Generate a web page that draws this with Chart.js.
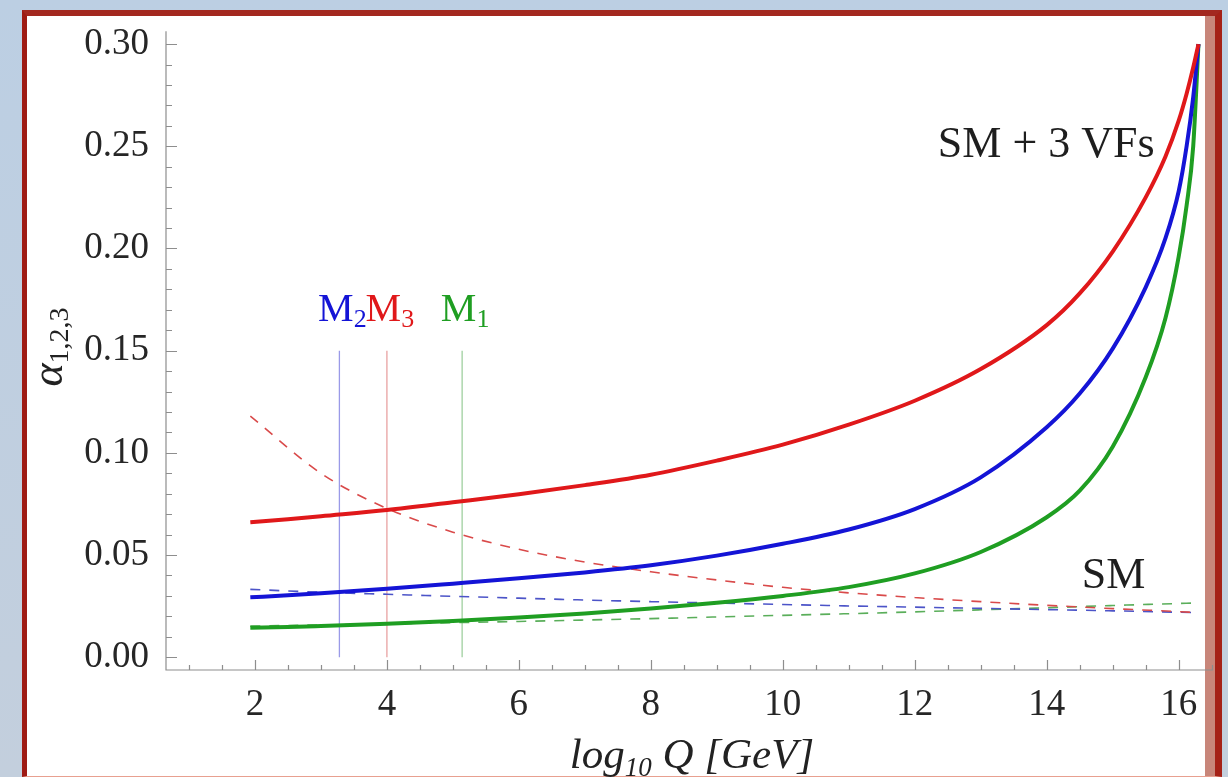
<!DOCTYPE html>
<html>
<head>
<meta charset="utf-8">
<script src="https://cdn.jsdelivr.net/npm/chart.js@4.4.1/dist/chart.umd.min.js"></script>
<style>
  html, body { margin: 0; padding: 0; }
  body { width: 1228px; height: 777px; overflow: hidden; position: relative;
         background: linear-gradient(to bottom, #bccfe3, #c3cfdd); }
  #frame { position: absolute; left: 22px; top: 10px; width: 1200px; height: 767px;
           box-sizing: border-box; background: #fff;
           border-left: 5px solid #9e1b14; border-top: 6px solid #a3281f;
           border-right: 7px solid #a52117; border-bottom: 1px solid #e8a090;
           box-shadow: inset -10px 0 0 #c8867a; }
  #chart { position: absolute; left: 0; top: 0; }
</style>
</head>
<body>
<div id="frame"></div>
<canvas id="chart" width="1228" height="777"></canvas>
<script>
// running couplings, SM + 3 VFs (solid)
const vfLogQ   = [1.93, 2.5, 3, 4, 5, 6, 7, 8, 9, 10, 11, 12, 13, 14, 14.5, 15, 15.5, 15.8, 16, 16.12, 16.22, 16.30];
const alpha3VF = [0.066, 0.0675, 0.069, 0.072, 0.0758, 0.0797, 0.0842, 0.0893, 0.0962, 0.104, 0.1138, 0.1255, 0.141, 0.1625, 0.178, 0.1985, 0.225, 0.245, 0.2625, 0.2757, 0.2885, 0.300];
const alpha2VF = [0.0293, 0.0303, 0.0313, 0.0335, 0.036, 0.0386, 0.0415, 0.045, 0.0497, 0.0555, 0.0625, 0.0725, 0.088, 0.1125, 0.129, 0.151, 0.181, 0.205, 0.228, 0.250, 0.274, 0.300];
const alpha1VF = [0.0144, 0.0148, 0.0153, 0.0164, 0.0177, 0.0194, 0.0214, 0.0238, 0.0266, 0.0300, 0.0343, 0.041, 0.0515, 0.0685, 0.0815, 0.103, 0.137, 0.166, 0.196, 0.221, 0.250, 0.300];

// running couplings, SM only (dashed)
const smLogQ   = [1.93, 3, 4, 5, 6, 7, 8, 9, 10, 11, 12, 13, 14, 15, 16, 16.30];
const alpha3SM = [0.118, 0.090, 0.0728, 0.0612, 0.0528, 0.0466, 0.0418, 0.0378, 0.0342, 0.0315, 0.0292, 0.0272, 0.0254, 0.0238, 0.0223, 0.0218];
const alpha2SM = [0.0332, 0.0318, 0.0308, 0.0298, 0.0289, 0.0280, 0.0272, 0.0265, 0.0258, 0.0251, 0.0245, 0.0239, 0.0233, 0.0227, 0.0220, 0.0218];
const alpha1SM = [0.0152, 0.0158, 0.0163, 0.0169, 0.0175, 0.0182, 0.0189, 0.0197, 0.0205, 0.0213, 0.0222, 0.0232, 0.0242, 0.0253, 0.0263, 0.0266];

// VF mass thresholds M2, M3, M1
const massLogQ = [3.28, 4.0, 5.14];
const massSub  = ['2', '3', '1'];
const massTop  = 0.15;

const xTickValues = [2, 4, 6, 8, 10, 12, 14, 16];
const yTickValues = [0, 0.05, 0.10, 0.15, 0.20, 0.25, 0.30];

const colors = {
    red: '#e0181a', blue: '#1414d6', green: '#1f9e22',
    redDash: '#d94a4a', blueDash: '#4c54c8', greenDash: '#5aae5a',
    redThin: '#e8a2a2', blueThin: '#9a9ae8', greenThin: '#9fd09f'
};
const serif = "'Liberation Serif', 'DejaVu Serif', serif";

const pts = (xs, ys) => xs.map((x, i) => ({ x, y: ys[i] }));

function curve(label, xs, ys, color, dashed) {
    return {
        label,
        data: pts(xs, ys),
        borderColor: color,
        borderWidth: dashed ? 1.6 : 4,
        borderDash: dashed ? [10, 9] : [],
        pointRadius: 0,
        cubicInterpolationMode: 'monotone',
        order: dashed ? 2 : 1
    };
}

const thinColors = [colors.blueThin, colors.redThin, colors.greenThin];
const markerSets = massLogQ.map((m, i) => ({
    label: 'M' + massSub[i],
    data: [{ x: m, y: 0 }, { x: m, y: massTop }],
    borderColor: thinColors[i],
    borderWidth: 1.3,
    pointRadius: 0,
    order: 3
}));

// Mathematica-style axes: lines through the origin corner, ticks pointing inward
const axesPlugin = {
    id: 'mmaAxes',
    beforeDatasetsDraw(chart) {
        const { ctx, chartArea: a, scales: { x, y } } = chart;
        ctx.save();
        ctx.strokeStyle = '#8e8e8e';
        ctx.lineWidth = 1.2;
        ctx.beginPath();
        ctx.moveTo(a.left, a.top);
        ctx.lineTo(a.left, a.bottom);
        ctx.lineTo(a.right, a.bottom);
        ctx.stroke();
        ctx.beginPath();
        for (let v = 1; v <= 16.5; v += 0.5) {
            const px = Math.round(x.getPixelForValue(v)) + 0.5;
            const len = v % 2 === 0 ? 10 : 5;
            ctx.moveTo(px, a.bottom);
            ctx.lineTo(px, a.bottom - len);
        }
        for (let k = 0; k <= 30; k++) {
            const py = Math.round(y.getPixelForValue(k / 100)) + 0.5;
            const len = k % 5 === 0 ? 11 : 6;
            ctx.moveTo(a.left, py);
            ctx.lineTo(a.left + len, py);
        }
        ctx.stroke();
        ctx.restore();
    }
};

function drawRuns(ctx, runs, x, y, align) {
    let w = 0;
    runs.forEach(r => { ctx.font = r.font; w += ctx.measureText(r.t).width; });
    let cx = align === 'center' ? x - w / 2 : x;
    runs.forEach(r => {
        ctx.font = r.font;
        ctx.fillStyle = r.color || '#222';
        ctx.fillText(r.t, cx, y + (r.dy || 0));
        cx += ctx.measureText(r.t).width;
    });
}

const textPlugin = {
    id: 'labels',
    afterDraw(chart) {
        const { ctx, scales: { x, y } } = chart;
        ctx.save();
        ctx.textBaseline = 'alphabetic';
        ctx.textAlign = 'left';

        // axis titles
        drawRuns(ctx, [
            { t: 'log', font: `italic 43px ${serif}` },
            { t: '10', font: `italic 27px ${serif}`, dy: 8 },
            { t: ' Q [GeV]', font: `italic 43px ${serif}` }
        ], 692, 768, 'center');

        ctx.save();
        ctx.translate(62, 347);
        ctx.rotate(-Math.PI / 2);
        drawRuns(ctx, [
            { t: 'α', font: `italic 44px ${serif}` },
            { t: '1,2,3', font: `28px ${serif}`, dy: 6 }
        ], 0, 0, 'center');
        ctx.restore();

        // threshold labels
        const mColors = [colors.blue, colors.red, colors.green];
        massLogQ.forEach((m, i) => {
            drawRuns(ctx, [
                { t: 'M', font: `40px ${serif}`, color: mColors[i] },
                { t: massSub[i], font: `26px ${serif}`, color: mColors[i], dy: 6 }
            ], x.getPixelForValue(m) + 3, y.getPixelForValue(0.1644), 'center');
        });

        ctx.font = `44px ${serif}`;
        ctx.fillStyle = '#1e1e1e';
        ctx.fillText('SM + 3 VFs', x.getPixelForValue(12.35), y.getPixelForValue(0.2447));
        ctx.fillText('SM', x.getPixelForValue(14.53), y.getPixelForValue(0.0337));
        ctx.restore();
    }
};

new Chart(document.getElementById('chart'), {
    type: 'line',
    data: {
        datasets: [
            curve('α3 SM+3VFs', vfLogQ, alpha3VF, colors.red, false),
            curve('α2 SM+3VFs', vfLogQ, alpha2VF, colors.blue, false),
            curve('α1 SM+3VFs', vfLogQ, alpha1VF, colors.green, false),
            curve('α3 SM', smLogQ, alpha3SM, colors.redDash, true),
            curve('α2 SM', smLogQ, alpha2SM, colors.blueDash, true),
            curve('α1 SM', smLogQ, alpha1SM, colors.greenDash, true),
            ...markerSets
        ]
    },
    options: {
        responsive: false,
        devicePixelRatio: 1,
        animation: false,
        layout: { padding: { left: 0, top: 20, right: 15, bottom: 0 } },
        plugins: { legend: { display: false }, tooltip: { enabled: false } },
        scales: {
            x: {
                type: 'linear',
                min: 0.652,
                max: 16.52,
                grid: { display: false },
                border: { display: false },
                afterBuildTicks: s => { s.ticks = xTickValues.map(v => ({ value: v })); },
                afterFit: s => { s.height = 107; },
                ticks: {
                    padding: 5,
                    color: '#262626',
                    font: { family: serif, size: 37 },
                    maxRotation: 0,
                    callback: v => String(v)
                }
            },
            y: {
                min: -0.00625,
                max: 0.3063,
                grid: { display: false },
                border: { display: false },
                afterBuildTicks: s => { s.ticks = yTickValues.map(v => ({ value: v })); },
                afterFit: s => { s.width = 166; },
                ticks: {
                    padding: 9,
                    color: '#262626',
                    font: { family: serif, size: 37 },
                    callback: v => v.toFixed(2)
                }
            }
        }
    },
    plugins: [axesPlugin, textPlugin]
});
</script>
</body>
</html>
